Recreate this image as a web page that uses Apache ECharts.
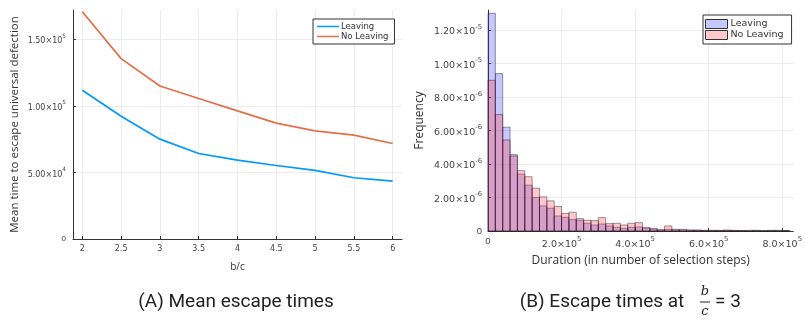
<!DOCTYPE html>
<html>
<head>
<meta charset="utf-8">
<script src="https://cdn.jsdelivr.net/npm/echarts@6/dist/echarts.min.js"></script>
<style>
  html, body { margin: 0; padding: 0; background: #fff; }
  #chart { width: 805px; height: 322px; }
</style>
</head>
<body>
<div id="chart"></div>
<script>
// (A) mean escape times vs b/c
const bc = [2, 2.5, 3, 3.5, 4, 4.5, 5, 5.5, 6];
const leavingMean = [111700, 92200, 75000, 64200, 59200, 55200, 51500, 46000, 43500];
const noLeavingMean = [170700, 135500, 114900, 105500, 96200, 87000, 81200, 78000, 71700];

// (B) histogram of escape times at b/c = 3, bins of 2e4 steps, frequency in 1e-6
const binWidth = 20000;
const leavingFreq = [13.0, 9.4, 6.2, 4.56, 3.4, 2.74, 2.0, 1.5, 1.36, 0.9,
  0.82, 0.68, 0.64, 0.46, 0.36, 0.42, 0.3, 0.22, 0.16, 0.22,
  0.24, 0.16, 0.1, 0.06, 0.1, 0.06, 0.06, 0.04, 0.04, 0.02,
  0.02, 0.02, 0.02, 0.02, 0.02, 0, 0.02, 0, 0.02, 0, 0.02];
const noLeavingFreq = [9.0, 6.96, 5.44, 4.48, 3.6, 3.24, 2.56, 2.04, 1.8, 1.46,
  1.05, 1.12, 0.74, 0.64, 0.62, 0.8, 0.44, 0.46, 0.36, 0.46,
  0.5, 0.22, 0.16, 0.08, 0.3, 0.1, 0.1, 0.06, 0.06, 0.04,
  0.04, 0.04, 0.06, 0.04, 0.02, 0.04, 0.04, 0.02, 0.04, 0.04, 0.02];

// tick values
const meanXTicks = [2, 2.5, 3, 3.5, 4, 4.5, 5, 5.5, 6];
const meanYTicks = [0, 50000, 100000, 150000];
const durXTicks = [0, 200000, 400000, 600000, 800000];
const freqYTicks = [0, 2e-6, 4e-6, 6e-6, 8e-6, 1e-5, 1.2e-5];

const tickFont = 'DejaVu Sans';
const nameFont = 'Open Sans';

function sci(v, digits) {
  if (v === 0) return '0';
  const exp = Math.floor(Math.log10(v) + 1e-9);
  const mant = v / Math.pow(10, exp);
  return '{m|' + mant.toFixed(digits) + '×10}{e|' + exp + '}';
}
function rich(size) {
  return {
    m: { fontSize: size, fontFamily: tickFont, color: '#444', lineHeight: size + 4, verticalAlign: 'bottom' },
    e: { fontSize: size * 0.72, fontFamily: tickFont, color: '#444', lineHeight: size * 0.72, verticalAlign: 'top' }
  };
}

const histData = (vals) => vals.map((v, i) => [i * binWidth, (i + 1) * binWidth, v * 1e-6]);

function renderBin(fill) {
  return function (params, api) {
    const p0 = api.coord([api.value(0), api.value(2)]);
    const p1 = api.coord([api.value(1), 0]);
    return {
      type: 'rect',
      shape: { x: p0[0], y: p0[1], width: p1[0] - p0[0], height: p1[1] - p0[1] },
      style: { fill: fill, stroke: 'rgba(40,20,40,0.55)', lineWidth: 0.8 }
    };
  };
}

const axisLine = { show: true, lineStyle: { color: '#333', width: 1 } };
const splitLine = { show: true, lineStyle: { color: '#ececec', width: 1 } };
const axisTick = { show: true, inside: true, length: 3, lineStyle: { color: '#333' } };

const blueFill = 'rgba(70,70,255,0.3)';
const redFill = 'rgba(255,50,60,0.27)';

const chart = echarts.init(document.getElementById('chart'), null, { renderer: 'canvas' });
chart.setOption({
  animation: false,
  backgroundColor: '#fff',
  grid: [
    { left: 73, top: 10, width: 329, height: 229 },
    { left: 488, top: 10, width: 311, height: 221 }
  ],
  legend: [
    {
      left: 313, top: 19, orient: 'vertical', itemGap: 1,
      padding: [3, 6, 3, 4],
      borderColor: '#333', borderWidth: 1, backgroundColor: '#fff',
      itemWidth: 22, itemHeight: 1.5, icon: 'rect',
      textStyle: { fontSize: 8.5, fontFamily: tickFont, color: '#333', padding: [0, 0, 0, -3] },
      data: ['Leaving', 'No Leaving'].map(n => ({ name: n }))
    },
    {
      left: 703, top: 15, orient: 'vertical', itemGap: 1,
      padding: [4, 5, 4, 2],
      borderColor: '#333', borderWidth: 1, backgroundColor: '#fff',
      itemWidth: 22, itemHeight: 9, icon: 'rect',
      textStyle: { fontSize: 9.5, fontFamily: tickFont, color: '#333', padding: [0, 0, 0, -2] },
      data: [
        { name: 'Leaving ', itemStyle: { color: blueFill, borderColor: '#333', borderWidth: 1 } },
        { name: 'No Leaving ', itemStyle: { color: redFill, borderColor: '#333', borderWidth: 1 } }
      ]
    }
  ],
  xAxis: [
    {
      gridIndex: 0, type: 'value', min: 1.88, max: 6.12,
      name: 'b/c', nameLocation: 'middle', nameGap: 23,
      nameTextStyle: { fontSize: 10, fontFamily: nameFont, color: '#333' },
      axisLine: axisLine, splitLine: splitLine,
      axisTick: Object.assign({ customValues: meanXTicks }, axisTick),
      axisLabel: { customValues: meanXTicks, fontSize: 8, fontFamily: tickFont, color: '#444', margin: 6 }
    },
    {
      gridIndex: 1, type: 'value', min: 0, max: 830000,
      name: 'Duration (in number of selection steps)', nameLocation: 'middle', nameGap: 24,
      nameTextStyle: { fontSize: 12, fontFamily: nameFont, color: '#333' },
      axisLine: axisLine, splitLine: splitLine,
      axisTick: Object.assign({ customValues: durXTicks }, axisTick),
      axisLabel: {
        customValues: durXTicks, margin: 5, hideOverlap: false,
        formatter: v => sci(v, 1), rich: rich(9.5), fontSize: 9.5, color: '#444'
      }
    }
  ],
  yAxis: [
    {
      gridIndex: 0, type: 'value', min: 0, max: 172000,
      name: 'Mean time to escape universal defection', nameLocation: 'middle', nameGap: 52,
      nameTextStyle: { fontSize: 11.5, fontFamily: nameFont, color: '#333' },
      axisLine: axisLine, splitLine: splitLine,
      axisTick: Object.assign({ customValues: meanYTicks }, axisTick),
      axisLabel: {
        customValues: meanYTicks, margin: 7,
        formatter: v => sci(v, 2), rich: rich(8), fontSize: 8, color: '#444'
      }
    },
    {
      gridIndex: 1, type: 'value', min: 0, max: 1.32e-5,
      name: 'Frequency', nameLocation: 'middle', nameGap: 62,
      nameTextStyle: { fontSize: 12, fontFamily: nameFont, color: '#333' },
      axisLine: axisLine, splitLine: splitLine,
      axisTick: Object.assign({ customValues: freqYTicks }, axisTick),
      axisLabel: {
        customValues: freqYTicks, margin: 6,
        formatter: v => sci(v, 2), rich: rich(9.5), fontSize: 9.5, color: '#444'
      }
    }
  ],
  series: [
    {
      name: 'Leaving', type: 'line', xAxisIndex: 0, yAxisIndex: 0,
      data: bc.map((x, i) => [x, leavingMean[i]]),
      showSymbol: false, color: '#009AFA', lineStyle: { width: 1.7 }
    },
    {
      name: 'No Leaving', type: 'line', xAxisIndex: 0, yAxisIndex: 0,
      data: bc.map((x, i) => [x, noLeavingMean[i]]),
      showSymbol: false, color: '#E36F47', lineStyle: { width: 1.7 }
    },
    {
      name: 'Leaving ', type: 'custom', xAxisIndex: 1, yAxisIndex: 1,
      color: blueFill, renderItem: renderBin(blueFill),
      encode: { x: [0, 1], y: 2 }, data: histData(leavingFreq)
    },
    {
      name: 'No Leaving ', type: 'custom', xAxisIndex: 1, yAxisIndex: 1,
      color: redFill, renderItem: renderBin(redFill),
      encode: { x: [0, 1], y: 2 }, data: histData(noLeavingFreq)
    }
  ],
  graphic: [
    { type: 'text', x: 236, y: 302, style: { text: '(A) Mean escape times', align: 'center', verticalAlign: 'middle', font: '19px "Liberation Sans Narrow", Roboto, sans-serif', fill: '#222' } },
    { type: 'text', x: 602, y: 302, style: { text: '(B) Escape times at', align: 'center', verticalAlign: 'middle', font: '19px "Liberation Sans Narrow", Roboto, sans-serif', fill: '#222' } },
    { type: 'text', x: 705, y: 292, style: { text: 'b', align: 'center', verticalAlign: 'middle', font: 'italic 13px "DejaVu Serif", serif', fill: '#222' } },
    { type: 'line', shape: { x1: 700, y1: 302, x2: 710, y2: 302 }, style: { stroke: '#222', lineWidth: 1 } },
    { type: 'text', x: 705, y: 312, style: { text: 'c', align: 'center', verticalAlign: 'middle', font: 'italic 13px "DejaVu Serif", serif', fill: '#222' } },
    { type: 'text', x: 715, y: 302, style: { text: '= 3', align: 'left', verticalAlign: 'middle', font: '19px "Liberation Sans Narrow", Roboto, sans-serif', fill: '#222' } }
  ]
});
</script>
</body>
</html>
